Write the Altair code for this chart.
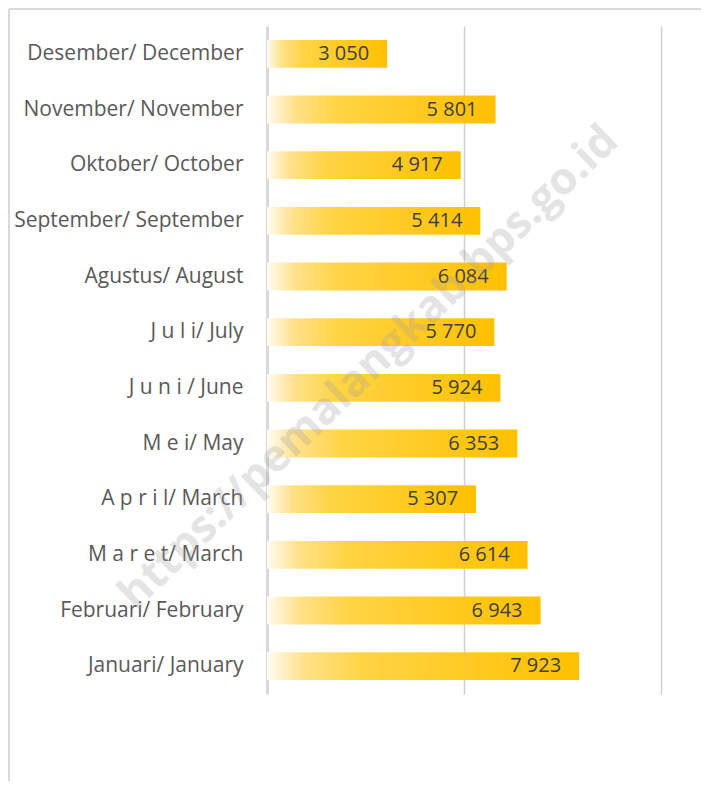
import altair as alt
import pandas as pd

months = [
    "Desember/ December", "November/ November", "Oktober/ October",
    "September/ September", "Agustus/ August", "J u l i/ July",
    "J u n i / June", "M e i/ May", "A p r i l/ March",
    "M a r e t/ March", "Februari/ February", "Januari/ January",
]
values = [3050, 5801, 4917, 5414, 6084, 5770, 5924, 6353, 5307, 6614, 6943, 7923]
value_labels = ["3 050", "5 801", "4 917", "5 414", "6 084", "5 770",
                "5 924", "6 353", "5 307", "6 614", "6 943", "7 923"]
grid_values = [5000, 10000]
watermark = "https://pemalangkab.bps.go.id"

df = pd.DataFrame({"month": months, "value": values, "label": value_labels})

FONT = "Open Sans"

x_enc = alt.X(
    "value:Q",
    scale=alt.Scale(domain=[0, 10000], nice=False),
    axis=alt.Axis(
        title=None, labels=False, ticks=False, domain=False,
        grid=True, values=grid_values, gridColor="#d0d0d0", gridWidth=1.5,
    ),
)
y_enc = alt.Y(
    "month:N",
    sort=months,
    scale=alt.Scale(paddingInner=0.5, paddingOuter=0.25),
    axis=alt.Axis(
        title=None, ticks=False, labelPadding=24, labelFont=FONT,
        labelFontSize=21, labelColor="#595959", labelLimit=400, domain=True,
        domainColor="#d9d9d9", domainWidth=3, grid=False,
    ),
)

gradient = alt.Gradient(
    gradient="linear",
    stops=[
        alt.GradientStop(color="#FFFCF2", offset=0),
        alt.GradientStop(color="#FFE18A", offset=0.12),
        alt.GradientStop(color="#FFD445", offset=0.3),
        alt.GradientStop(color="#FFC000", offset=1),
    ],
    x1=0, x2=1, y1=0, y2=0,
)

bars = alt.Chart(df).mark_bar(color=gradient).encode(x=x_enc, y=y_enc)

texts = alt.Chart(df).mark_text(
    align="right", baseline="middle", dx=-18, font=FONT, fontSize=20,
    color="#404040",
).encode(x="value:Q", y=alt.Y("month:N", sort=months), text="label:N")

wm = alt.Chart(pd.DataFrame({"t": [watermark]})).mark_text(
    font=FONT, fontSize=44, fontWeight="bold", color="#a0a0a0",
    opacity=0.28, angle=316, align="center", baseline="middle",
).encode(x=alt.value(102), y=alt.value(342), text="t:N")

frame_left = alt.Chart(pd.DataFrame({"a": [0]})).mark_rule(
    color="#d9d9d9", strokeWidth=2
).encode(x=alt.value(-258), y=alt.value(-17), y2=alt.value(800))
frame_top = alt.Chart(pd.DataFrame({"a": [0]})).mark_rule(
    color="#d9d9d9", strokeWidth=2
).encode(x=alt.value(-258), x2=alt.value(600), y=alt.value(-17))

chart = alt.layer(bars, texts, wm, frame_left, frame_top).properties(
    width=394, height=668,
    background="white",
    autosize=alt.AutoSizeParams(type="none"),
    padding={"left": 259, "top": 18, "right": 40, "bottom": 87},
).configure_view(strokeWidth=0, stroke="transparent")

chart.save("out.html", embed_options={"renderer": "svg", "actions": False})
